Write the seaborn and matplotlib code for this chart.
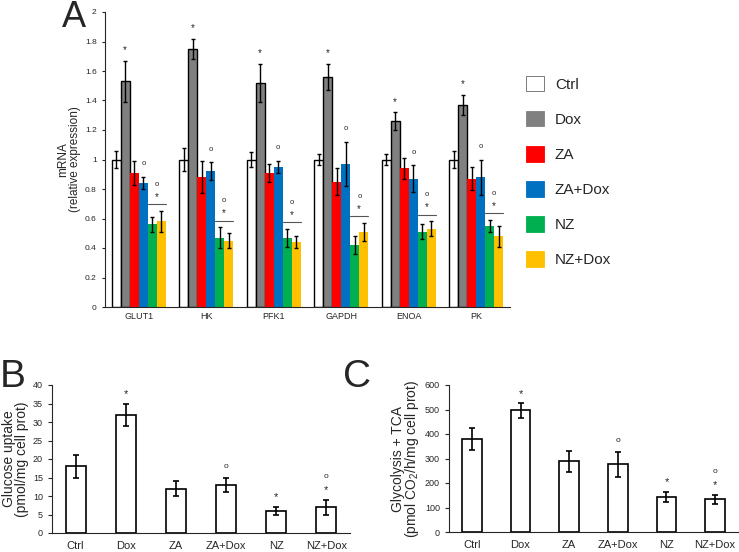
import numpy as np
import pandas as pd
import seaborn as sns
import matplotlib.pyplot as plt
from matplotlib.patches import Patch

sns.set_style('ticks')
plt.rcParams['font.family'] = ['Liberation Sans', 'DejaVu Sans']
plt.rcParams['mathtext.fontset'] = 'custom'
plt.rcParams['mathtext.rm'] = 'Liberation Sans'

genes = ['GLUT1', 'HK', 'PFK1', 'GAPDH', 'ENOA', 'PK']
groups = ['Ctrl', 'Dox', 'ZA', 'ZA+Dox', 'NZ', 'NZ+Dox']
colors = ['#ffffff', '#808080', '#ff0000', '#0070c0', '#00b050', '#ffc000']

# panel A: mRNA, one list per treatment (order of genes)
ctrl_mrna = [1.00, 1.00, 1.00, 1.00, 1.00, 1.00]
ctrl_err = [0.06, 0.08, 0.05, 0.04, 0.04, 0.06]
dox_mrna = [1.53, 1.75, 1.52, 1.56, 1.26, 1.37]
dox_err = [0.14, 0.07, 0.13, 0.09, 0.06, 0.07]
za_mrna = [0.91, 0.88, 0.91, 0.85, 0.94, 0.87]
za_err = [0.08, 0.11, 0.06, 0.09, 0.07, 0.08]
zadox_mrna = [0.84, 0.92, 0.95, 0.97, 0.87, 0.88]
zadox_err = [0.04, 0.06, 0.04, 0.15, 0.09, 0.12]
nz_mrna = [0.56, 0.47, 0.47, 0.42, 0.51, 0.55]
nz_err = [0.05, 0.07, 0.06, 0.06, 0.05, 0.04]
nzdox_mrna = [0.58, 0.45, 0.44, 0.51, 0.53, 0.48]
nzdox_err = [0.07, 0.05, 0.04, 0.06, 0.05, 0.07]

# panel B: glucose uptake
glucose = [18, 32, 12, 13, 6, 7]
glucose_err = [3, 3, 2, 2, 1, 2]
glucose_star = ['', '*', '', '', '*', '*']
glucose_circ = ['', '', '', 'o', '', 'o']

# panel C: glycolysis + TCA
glyco = [378, 496, 288, 277, 143, 133]
glyco_err = [45, 29, 44, 51, 20, 18]
glyco_star = ['', '*', '', '', '*', '*']
glyco_circ = ['', '', '', 'o', '', 'o']

means = [ctrl_mrna, dox_mrna, za_mrna, zadox_mrna, nz_mrna, nzdox_mrna]
errs = [ctrl_err, dox_err, za_err, zadox_err, nz_err, nzdox_err]
rows = []
for g, m in zip(groups, means):
    for gene, v in zip(genes, m):
        rows.append({'gene': gene, 'group': g, 'mrna': v})
df = pd.DataFrame(rows)

W, H = 739, 552
fig = plt.figure(figsize=(W / 100, H / 100), dpi=100)

# ---------------- A
ax = fig.add_axes([105 / W, 1 - 307 / H, 405 / W, 295 / H])
sns.barplot(data=df, x='gene', y='mrna', hue='group', hue_order=groups, order=genes,
            palette=colors, saturation=1, errorbar=None, width=0.8, legend=False, ax=ax)
bar_sets = list(ax.containers)
tops = {}
for i, cont in enumerate(bar_sets):
    for j, bar in enumerate(cont):
        x = bar.get_x() + bar.get_width() / 2
        bar.set_linewidth(1.0 if i < 2 else 0)
        bar.set_edgecolor('black')
        ax.errorbar(x, means[i][j], errs[i][j], fmt='none', ecolor='black',
                    elinewidth=1, capsize=1.5, capthick=1)
        tops[(i, j)] = (bar, means[i][j] + errs[i][j])

for j in range(len(genes)):
    bar, t = tops[(1, j)]
    ax.text(bar.get_x() + bar.get_width() / 2, t + 0.07, '*', ha='center', va='center', fontsize=7)
    bar, t = tops[(3, j)]
    ax.text(bar.get_x() + bar.get_width() / 2, t + 0.09, 'o', ha='center', va='center', fontsize=5.5)
    b1, t1 = tops[(4, j)]
    b2, t2 = tops[(5, j)]
    yl = max(t1, t2) + 0.045
    x0 = b1.get_x()
    x1 = b2.get_x() + b2.get_width()
    ax.plot([x0, x1], [yl, yl], color='#555555', lw=0.8)
    ax.text((x0 + x1) / 2, yl + 0.05, '*', ha='center', va='center', fontsize=7)
    ax.text((x0 + x1) / 2, yl + 0.135, 'o', ha='center', va='center', fontsize=5.5)

ax.set_xlim(-0.5, 5.5)
ax.set_ylim(0, 2)
ax.set_yticks(np.arange(0, 2.01, 0.2))
ax.set_yticklabels(['%g' % round(v, 1) for v in np.arange(0, 2.01, 0.2)])
ax.tick_params(axis='y', labelsize=6, length=2.5, width=0.8)
ax.tick_params(axis='x', labelsize=6.5, length=0)
ax.set_xlabel('')
ax.set_ylabel('mRNA\n(relative expression)', fontsize=8.5, labelpad=3, linespacing=0.9)
sns.despine(ax=ax)

handles = [Patch(facecolor=c, edgecolor='#666666' if k == 0 else c, linewidth=0.6) for k, c in enumerate(colors)]
fig.legend(handles, groups, loc='upper left', bbox_to_anchor=(512 / W, 1 - 62 / H), frameon=False,
           fontsize=11, handlelength=1.2, handleheight=1.2, labelspacing=1.25, handletextpad=0.7)

fig.text(62 / W, 1 - 27 / H, 'A', fontsize=26, va='baseline')


def small_panel(rect, vals, verr, star, circ, ylim, step, ylabel):
    a = fig.add_axes(rect)
    d = pd.DataFrame({'group': groups, 'val': vals})
    sns.barplot(data=d, x='group', y='val', order=groups, color='white', saturation=1,
                errorbar=None, width=0.4, edgecolor='black', linewidth=1.2, ax=a)
    rng = ylim[1] - ylim[0]
    for k, bar in enumerate(list(a.patches)):
        x = bar.get_x() + bar.get_width() / 2
        a.errorbar(x, vals[k], verr[k], fmt='none', ecolor='black', elinewidth=1.2, capsize=2, capthick=1.2)
        t = vals[k] + verr[k]
        if star[k] and circ[k]:
            a.text(x, t + 0.065 * rng, '*', ha='center', va='center', fontsize=8)
            a.text(x, t + 0.16 * rng, 'o', ha='center', va='center', fontsize=6)
        elif star[k]:
            a.text(x, t + 0.065 * rng, '*', ha='center', va='center', fontsize=8)
        elif circ[k]:
            a.text(x, t + 0.075 * rng, 'o', ha='center', va='center', fontsize=6)
    a.set_ylim(*ylim)
    a.set_yticks(np.arange(ylim[0], ylim[1] + 0.1, step))
    a.tick_params(axis='y', labelsize=6.5, length=3, width=0.8)
    a.tick_params(axis='x', labelsize=8, length=0, pad=6)
    a.set_xlabel('')
    a.set_ylabel(ylabel, fontsize=10, linespacing=0.85, labelpad=3)
    sns.despine(ax=a)
    return a


small_panel([52 / W, 1 - 533 / H, 298 / W, 148 / H], glucose, glucose_err, glucose_star, glucose_circ,
            (0, 40), 5, 'Glucose uptake\n(pmol/mg cell prot)')
small_panel([449 / W, 1 - 532 / H, 289 / W, 147 / H], glyco, glyco_err, glyco_star, glyco_circ,
            (0, 600), 100, 'Glycolysis + TCA\n(pmol CO$_2$/h/mg cell prot)')

fig.text(0 / W, 1 - 387 / H, 'B', fontsize=28, va='baseline')
fig.text(343 / W, 1 - 387 / H, 'C', fontsize=28, va='baseline')

fig.savefig('out.png', dpi=100)
